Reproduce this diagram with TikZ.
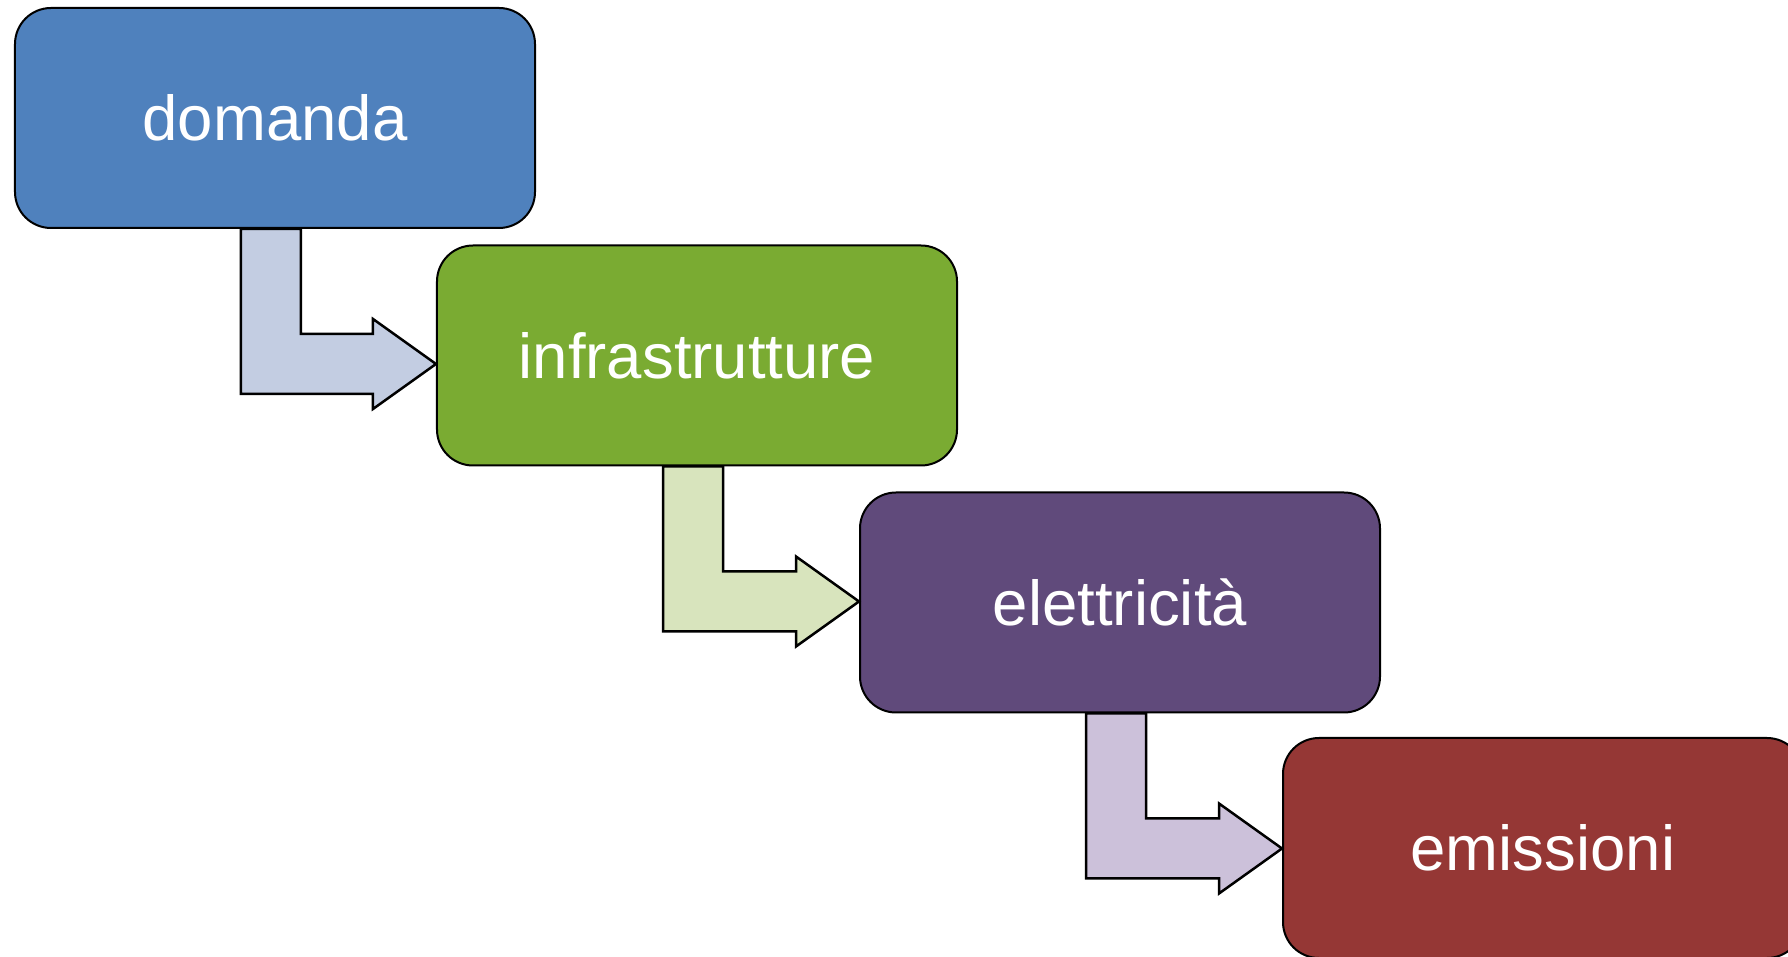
\documentclass[tikz,border=0pt]{standalone}
\usepackage{fontspec}
\setmainfont{Liberation Sans}
\usepackage{tikz}
\usetikzlibrary{calc}
\definecolor{boxblue}{HTML}{4F81BD}
\definecolor{boxgreen}{HTML}{7AAB32}
\definecolor{boxpurple}{HTML}{604A7B}
\definecolor{boxred}{HTML}{953735}
\definecolor{arrblue}{HTML}{C3CDE2}
\definecolor{arrgreen}{HTML}{D8E4BD}
\definecolor{arrpurple}{HTML}{CCC1DA}

\begin{document}
\begin{tikzpicture}[x=0.4pt,y=-0.4pt,
  stage/.style={draw=black,line width=0.8pt,rounded corners=14.4pt,minimum width=208pt,minimum height=88pt,
    inner sep=0pt,text=white,text height=18.3pt,text depth=0pt,font=\fontsize{25.4}{30}\selectfont},
  bent/.style={draw=black,line width=1pt,line join=miter}]
  \clip (0,0) rectangle (1788,957);
  \node[stage,fill=boxblue] (dem) at (275,118) {domanda};
  \node[stage,fill=boxgreen] (inf) at (697,355.5) {infrastrutture};
  \node[stage,fill=boxpurple] (ele) at (1120,602.5) {elettricità};
  \node[stage,fill=boxred] (emi) at (1543,848) {emissioni};
  % bent arrows: down from one box, then right into the next
  \foreach \src/\dst/\clr in {dem/inf/arrblue,inf/ele/arrgreen,ele/emi/arrpurple}{
    \coordinate (m) at ($(\src.south west)+(0,135)$);
    \draw[bent,fill=\clr] ($(\src.south west)+(227,0)$) -- ($(\src.south west)+(227,165)$)
      -- ($(\dst.west |- m)+(-63,30)$) -- ++(0,15) -- (\dst.west |- m) -- ++(-63,-45) -- ++(0,15)
      -- ($(\src.south west)+(287,105)$) -- ($(\src.south west)+(287,0)$) -- cycle;
  }
\end{tikzpicture}
\end{document}
